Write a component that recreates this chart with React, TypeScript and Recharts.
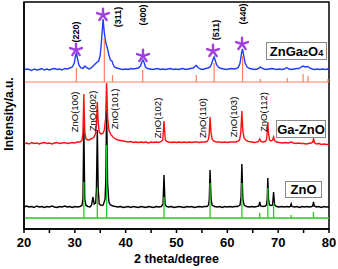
import React from "react";
import {
  ComposedChart,
  Line,
  Scatter,
  XAxis,
  YAxis,
  ReferenceArea,
} from "recharts";

const FONT = "'Liberation Sans', Arial, Helvetica, sans-serif";

// x ticks
const xTicks = [20, 25, 30, 35, 40, 45, 50, 55, 60, 65, 70, 75, 80];

// ZnO standard pattern (green): [2theta, top]
const znoRefBase = 11;
const znoRef: [number, number][] = [
  [31.77, 47], [34.42, 41], [36.25, 84], [47.54, 32], [56.6, 46], [62.86, 46],
  [66.38, 16], [67.96, 41], [69.1, 26], [72.56, 14], [76.95, 17],
];

// ZnGa2O4 standard pattern (orange)
const zgoRefBase = 147;
const zgoRef: [number, number][] = [
  [30.3, 161], [35.8, 191], [37.4, 154], [43.35, 159], [53.9, 154], [57.4, 166],
  [63.0, 173], [66.5, 150], [71.8, 151], [74.9, 155], [75.9, 153], [79.8, 150],
];

// ZnO measured (black)
const znoCurve: [number, number][] = [
  [20, 22], [20.5, 23], [21, 22], [21.5, 22.5], [22, 21.5], [22.5, 23], [23, 22], [23.5, 22.5],
  [24, 21.5], [24.5, 22.5], [25, 22], [25.5, 23], [26, 22], [26.5, 21.5], [27, 22.5], [27.5, 22],
  [28, 23], [28.5, 22], [29, 22.5], [29.5, 21.5], [30, 22.5], [30.5, 22], [31, 22.5], [31.4, 23.5],
  [31.6, 30], [31.77, 104], [31.95, 30], [32.2, 23.5], [32.6, 22.5], [33, 22], [33.3, 24], [33.55, 32],
  [33.8, 25], [34.1, 26], [34.25, 40], [34.42, 99], [34.6, 40], [34.8, 25], [35.2, 23.5], [35.6, 24],
  [35.95, 30], [36.1, 50], [36.25, 119], [36.45, 45], [36.7, 27], [37, 24], [37.5, 23], [38, 22.5],
  [38.5, 22], [39, 22.5], [39.5, 21.5], [40, 22], [40.5, 22.5], [41, 21.5], [41.5, 22.5], [42, 22],
  [42.5, 21.5], [43, 22.5], [43.5, 22], [44, 21.5], [44.5, 22.5], [45, 22], [45.5, 21.5], [46, 22.5],
  [46.5, 22], [47, 22.5], [47.35, 25], [47.54, 54], [47.75, 25], [48, 22.5], [48.5, 22], [49, 22.5],
  [49.5, 21.5], [50, 22], [50.5, 22.5], [51, 22], [51.5, 21.5], [52, 22.5], [52.5, 22], [53, 22.5],
  [53.5, 21.5], [54, 22], [54.5, 22.5], [55, 22], [55.5, 22.5], [56, 22.5], [56.3, 24], [56.45, 30],
  [56.6, 59], [56.8, 30], [57, 24], [57.5, 22.5], [58, 22], [58.5, 22.5], [59, 21.5], [59.5, 22.5],
  [60, 22], [60.5, 22.5], [61, 22], [61.5, 22.5], [62, 22.5], [62.5, 24], [62.7, 32], [62.86, 65],
  [63.05, 30], [63.3, 24], [63.8, 22.5], [64.3, 22], [64.8, 22.5], [65.3, 22], [65.8, 22.5], [66.2, 23],
  [66.38, 27], [66.55, 23], [67, 22.5], [67.5, 23], [67.7, 24], [67.85, 30], [67.96, 51], [68.1, 30],
  [68.3, 24], [68.6, 23.5], [68.9, 24], [69.1, 37], [69.3, 24], [69.7, 22.5], [70.2, 22], [70.7, 22.5],
  [71.2, 22], [71.7, 22.5], [72.2, 22], [72.4, 22.5], [72.56, 25], [72.7, 22.5], [73.2, 22], [73.7, 22.5],
  [74.2, 21.5], [74.7, 22.5], [75.2, 22], [75.7, 22.5], [76.2, 22], [76.6, 22.5], [76.8, 23], [76.95, 27],
  [77.1, 23], [77.5, 22], [78, 22.5], [78.5, 21.5], [79, 22.5], [79.5, 22], [80, 22],
];

// Ga-ZnO measured (red)
const gaznoCurve: [number, number][] = [
  [20, 85], [20.5, 86], [21, 85], [21.5, 86.5], [22, 85.5], [22.5, 86], [23, 85], [23.5, 86],
  [24, 86.5], [24.5, 85.5], [25, 86], [25.5, 85], [26, 86], [26.5, 86.5], [27, 85.5], [27.5, 86],
  [28, 86.5], [28.5, 85.5], [29, 86], [29.5, 86.5], [30, 86], [30.5, 87], [31, 87], [31.4, 88.5],
  [31.6, 96], [31.77, 135], [31.95, 98], [32.2, 90], [32.6, 89], [33, 89.5], [33.4, 90.5], [33.8, 92],
  [34.1, 96], [34.25, 105], [34.42, 127], [34.6, 106], [34.8, 97], [35.1, 95], [35.5, 95.5], [35.8, 99],
  [36.05, 110], [36.25, 146], [36.45, 112], [36.7, 99], [37, 95], [37.5, 92], [38, 90], [38.5, 89],
  [39, 88.5], [39.5, 88], [40, 87.5], [40.5, 87], [41, 87.5], [41.5, 86.5], [42, 87], [42.5, 86.5],
  [43, 87], [43.5, 86.5], [44, 87], [44.5, 86], [45, 87], [45.5, 86.5], [46, 87], [46.5, 86.5],
  [47, 87.5], [47.3, 89], [47.54, 108], [47.8, 89], [48.1, 87.5], [48.5, 87], [49, 86.5], [49.5, 87],
  [50, 86.5], [50.5, 87], [51, 86.5], [51.5, 87], [52, 86.5], [52.5, 87], [53, 86.5], [53.5, 87],
  [54, 87], [54.5, 86.5], [55, 87], [55.5, 87], [56, 87.5], [56.3, 90], [56.45, 96], [56.6, 112],
  [56.8, 96], [57, 90], [57.3, 88], [57.8, 87], [58.5, 87], [59, 86.5], [59.5, 87], [60, 86.5],
  [60.5, 87], [61, 87], [61.5, 87], [62, 87.5], [62.4, 89], [62.65, 96], [62.86, 118], [63.05, 98],
  [63.3, 91], [63.7, 88.5], [64.2, 87.5], [64.8, 87], [65.3, 86.5], [65.8, 87], [66.1, 87.5], [66.38, 90],
  [66.6, 87.5], [67, 87], [67.4, 87.5], [67.7, 89], [67.85, 96], [67.96, 107], [68.1, 96], [68.3, 89],
  [68.6, 88], [68.9, 89], [69.1, 92], [69.3, 88.5], [69.7, 87], [70.2, 86.5], [70.8, 86], [71.4, 86.5],
  [72, 86], [72.56, 87], [73, 86], [73.5, 85.5], [74, 86], [74.5, 85.5], [75, 85.5], [75.5, 85],
  [76, 85.5], [76.5, 86], [76.8, 87], [76.95, 90], [77.15, 86.5], [77.5, 85], [78, 85.5], [78.5, 84.5],
  [79, 85], [79.5, 84.5], [80, 84.5],
];

// ZnGa2O4 measured (blue)
const zgoCurve: [number, number][] = [
  [20, 159], [20.5, 160], [21, 159.5], [21.5, 158.5], [22, 160], [22.5, 159], [23, 159.5], [23.5, 160.5],
  [24, 159], [24.5, 160], [25, 159], [25.5, 160], [26, 160.5], [26.5, 159.5], [27, 160], [27.5, 159],
  [28, 160.5], [28.5, 160], [29, 161], [29.5, 162], [29.9, 166], [30.1, 172], [30.3, 176], [30.5, 171],
  [30.8, 164], [31.2, 161], [31.6, 160.5], [32, 163], [32.4, 161], [32.8, 160], [33.2, 161], [33.6, 163],
  [34, 165], [34.4, 167], [34.7, 168], [35, 174], [35.25, 188], [35.55, 210], [35.8, 196], [36.1, 186],
  [36.4, 181], [36.7, 174], [37, 169], [37.3, 168], [37.5, 165], [37.8, 162], [38.2, 161], [38.6, 160.5],
  [39, 160], [39.5, 159.5], [40, 160], [40.5, 159.5], [41, 160.5], [41.5, 160], [42, 160.5], [42.5, 161],
  [42.9, 163], [43.2, 167], [43.4, 169], [43.6, 167], [43.9, 162], [44.3, 160.5], [44.8, 160], [45.3, 159.5],
  [45.8, 160], [46.3, 160.5], [46.8, 159.5], [47.3, 160], [47.8, 159.5], [48.3, 160], [48.8, 160.5], [49.3, 159.5],
  [49.8, 160], [50.3, 159.5], [50.8, 160], [51.3, 160.5], [51.8, 159.5], [52.3, 160], [52.8, 160.5], [53.3, 161],
  [53.7, 163], [53.9, 163.5], [54.2, 161.5], [54.7, 160], [55.2, 159.5], [55.7, 160.5], [56.2, 161], [56.6, 162],
  [56.9, 165], [57.2, 170], [57.4, 172], [57.6, 169], [57.9, 164], [58.3, 161.5], [58.8, 160.5], [59.3, 160],
  [59.8, 159.5], [60.3, 160], [60.8, 160.5], [61.3, 160], [61.8, 160.5], [62.2, 162], [62.5, 166], [62.8, 176],
  [63.0, 180], [63.2, 174], [63.5, 166], [63.9, 162], [64.4, 160.5], [64.9, 160], [65.4, 159.5], [65.9, 160],
  [66.3, 161], [66.5, 162], [66.7, 161], [67.2, 160], [67.7, 159.5], [68.2, 160], [68.7, 160.5], [69.2, 160],
  [69.7, 159.5], [70.2, 160], [70.7, 159.5], [71.2, 160], [71.7, 161.5], [72.1, 160], [72.6, 159.5], [73.1, 160],
  [73.6, 160.5], [74.1, 160.5], [74.5, 162], [74.9, 163], [75.3, 162], [75.8, 162.5], [76.2, 161], [76.7, 160],
  [77.2, 159.5], [77.7, 160], [78.2, 159.5], [78.7, 160], [79.2, 159.5], [79.7, 160], [80, 159.5],
];

// asterisks above ZnGa2O4 peaks
const starPoints: [number, number][] = [
  [30.23, 179], [35.54, 214], [43.41, 173], [57.18, 178], [62.89, 185],
];

// (hkl) labels of ZnGa2O4
const zgoLabels: [number, number, string][] = [
  [30.23, 197, "(220)"], [38.49, 212, "(311)"], [43.41, 214, "(400)"],
  [57.77, 199, "(511)"], [63.08, 215, "(440)"],
];

// ZnO labels
const znoLabels: [number, number, string][] = [
  [30.03, 117, "ZnO(100)"], [33.38, 118, "ZnO(002)"], [37.9, 120, "ZnO(101)"],
  [46.36, 111, "ZnO(102)"], [55.21, 111, "ZnO(110)"], [61.31, 112, "ZnO(103)"],
  [67.02, 117, "ZnO(112)"],
];

const toPts = (arr: [number, number][]) => arr.map(([x, y]) => ({ x, y }));
const sticks = (base: number, list: [number, number][]) => {
  const pts: { x: number; y: number }[] = [{ x: 20, y: base }];
  for (const [x, h] of list) {
    pts.push({ x, y: base }, { x, y: h }, { x, y: base });
  }
  pts.push({ x: 80, y: base });
  return pts;
};

const Star = (props: any) => {
  const { cx, cy } = props;
  const r = 6.2;
  const arms = [-90, -18, 54, 126, 198].map((a) => {
    const rad = (a * Math.PI) / 180;
    return (
      <line
        key={a}
        x1={cx}
        y1={cy}
        x2={cx + r * Math.cos(rad)}
        y2={cy + r * Math.sin(rad)}
        stroke="#a040e0"
        strokeWidth={2.4}
        strokeLinecap="round"
      />
    );
  });
  return <g>{arms}</g>;
};

const makeRot = (bold: boolean) => (props: any) => {
  const { cx, cy, payload } = props;
  return (
    <text
      x={cx}
      y={cy}
      transform={`rotate(-90 ${cx} ${cy})`}
      textAnchor="middle"
      dominantBaseline="central"
      fontSize={bold ? 9 : 9.5}
      fontWeight={bold ? "bold" : "normal"}
      fontFamily={FONT}
      fill="#000"
    >
      {payload.t}
    </text>
  );
};

const boxStyle: React.CSSProperties = {
  position: "absolute",
  border: "1px solid #888",
  background: "#fff",
  boxSizing: "border-box",
  fontFamily: FONT,
  fontWeight: "bold",
  fontSize: 13,
  color: "#000",
  display: "flex",
  alignItems: "center",
  justifyContent: "center",
  lineHeight: 1,
};

export default function App() {
  return (
    <div style={{ position: "absolute", left: 0, top: 0, width: 338, height: 269, background: "#fff" }}>
      <ComposedChart
        width={338}
        height={269}
        margin={{ top: 2, right: 9, left: 0, bottom: 0 }}
      >
        <XAxis
          dataKey="x"
          type="number"
          domain={[20, 80]}
          ticks={xTicks}
          allowDataOverflow
          tickFormatter={(v: number) => (v % 10 === 0 ? String(v) : "")}
          tickSize={4}
          tickMargin={5}
          height={40}
          stroke="#000"
          strokeWidth={1.5}
          tick={{ fill: "#000", fontSize: 13, fontWeight: "bold", fontFamily: FONT }}
          label={{
            content: () => (
              <text
                x={176.5}
                y={262.5}
                textAnchor="middle"
                fontSize={12.5}
                fontWeight="bold"
                fontFamily={FONT}
                fill="#000"
              >
                2 theta/degree
              </text>
            ),
          }}
        />
        <YAxis
          type="number"
          domain={[0, 227]}
          allowDataOverflow
          width={24}
          tick={false}
          tickLine={false}
          stroke="#000"
          strokeWidth={1.5}
          label={{
            content: () => (
              <text
                x={13}
                y={114}
                transform="rotate(-90 13 114)"
                textAnchor="middle"
                fontSize={12}
                fontWeight="bold"
                fontFamily={FONT}
                fill="#000"
              >
                Intensity/a.u.
              </text>
            ),
          }}
        />
        <ReferenceArea
          x1={20}
          x2={80}
          y1={0}
          y2={227}
          stroke="#000"
          strokeWidth={1.5}
          fill="none"
          fillOpacity={0}
          ifOverflow="visible"
        />
        <Line data={toPts(znoCurve)} dataKey="y" stroke="#000" strokeWidth={1.4} dot={false} isAnimationActive={false} type="linear" />
        <Line data={toPts(gaznoCurve)} dataKey="y" stroke="#ff1010" strokeWidth={1.4} dot={false} isAnimationActive={false} type="linear" />
        <Line data={sticks(znoRefBase, znoRef)} dataKey="y" stroke="#22cc22" strokeWidth={1.3} dot={false} isAnimationActive={false} type="linear" />
        <Line data={toPts(zgoCurve)} dataKey="y" stroke="#1f3cff" strokeWidth={1.4} dot={false} isAnimationActive={false} type="linear" />
        <Line data={sticks(zgoRefBase, zgoRef)} dataKey="y" stroke="#ff7f5a" strokeWidth={1.2} dot={false} isAnimationActive={false} type="linear" />
        <Scatter data={toPts(starPoints)} dataKey="y" shape={Star} isAnimationActive={false} />
        <Scatter data={zgoLabels.map(([x, y, t]) => ({ x, y, t }))} dataKey="y" shape={makeRot(true)} isAnimationActive={false} />
        <Scatter data={znoLabels.map(([x, y, t]) => ({ x, y, t }))} dataKey="y" shape={makeRot(false)} isAnimationActive={false} />
      </ComposedChart>
      <div style={{ ...boxStyle, left: 266, top: 42, width: 61, height: 18 }}>
        <span>
          ZnGa<span style={{ fontSize: 9 }}>2</span>O<span style={{ fontSize: 9 }}>4</span>
        </span>
      </div>
      <div style={{ ...boxStyle, left: 276, top: 120, width: 50, height: 18 }}>Ga-ZnO</div>
      <div style={{ ...boxStyle, left: 285, top: 181, width: 37, height: 17 }}>ZnO</div>
    </div>
  );
}
